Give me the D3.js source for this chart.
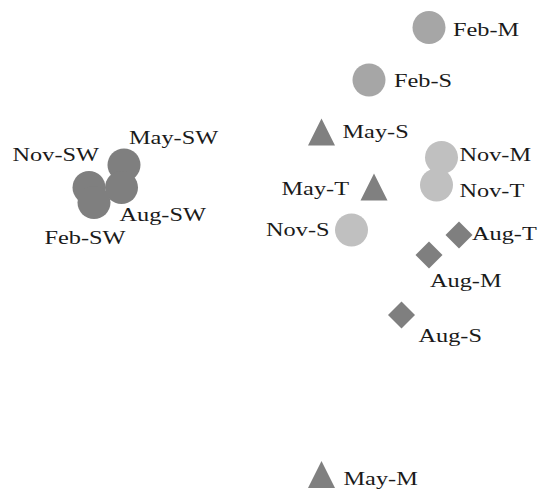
<!DOCTYPE html>
<html lang="en">
<head>
  <meta charset="UTF-8">
  <title>NMDS ordination</title>
  <script src="https://cdn.jsdelivr.net/npm/d3@7/dist/d3.min.js"></script>
  <style>
    body { margin: 0; background: #fff; }
  </style>
</head>
<body>
  <svg class="ordination"></svg>
</body>
</html>
<script>
  var svgWidth = 548;
  var svgHeight = 498;

  // sample labels, ordination scores (axis 1, axis 2) and marker group
  var labels = ['Feb-M', 'Feb-S', 'May-S', 'Nov-M', 'Nov-T', 'May-T', 'Nov-S', 'Aug-T',
                'Aug-M', 'Aug-S', 'May-M', 'May-SW', 'Aug-SW', 'Nov-SW', 'Feb-SW'];
  var axis1 = [0.62, 0.38, 0.19, 0.67, 0.65, 0.40, 0.31, 0.74,
               0.62, 0.51, 0.19, -0.60, -0.61, -0.74, -0.72];
  var axis2 = [0.89, 0.68, 0.47, 0.37, 0.26, 0.25, 0.08, 0.06,
               -0.02, -0.26, -0.90, 0.34, 0.25, 0.25, 0.19];
  var groups = ['feb', 'feb', 'may', 'nov', 'nov', 'may', 'nov', 'aug',
                'aug', 'aug', 'may', 'sw', 'sw', 'sw', 'sw'];

  // label placement relative to the marker: [dx, dy, anchor]
  var labelPos = {
    'Feb-M': [24, 2, 'start'], 'Feb-S': [25, 1, 'start'], 'May-S': [21, -1, 'start'],
    'Nov-M': [18, -3, 'start'], 'Nov-T': [23, 6, 'start'], 'May-T': [-25, 1, 'end'],
    'Nov-S': [-22, 0, 'end'], 'Aug-T': [13, -1, 'start'], 'Aug-M': [1, 26, 'start'],
    'Aug-S': [17, 21, 'start'], 'May-M': [22, 4, 'start'], 'May-SW': [5, -27, 'start'],
    'Aug-SW': [-2, 27, 'start'], 'Nov-SW': [10, -33, 'end'], 'Feb-SW': [-9, 35, 'middle']
  };

  var fills = { sw: '#7f7f7f', feb: '#a6a6a6', nov: '#c0c0c0', may: '#808080', aug: '#7f7f7f' };

  var data = labels.map(function(d, i) {
    return { label: d, x: axis1[i], y: axis2[i], group: groups[i] };
  });

  var xScale = d3.scaleLinear().domain([-1, 1]).range([24, 524]);
  var yScale = d3.scaleLinear().domain([-1, 1]).range([500, 0]);

  var svg = d3.select('.ordination')
    .attr('width', svgWidth)
    .attr('height', svgHeight);

  function shapePath(d) {
    var cx = xScale(d.x), cy = yScale(d.y);
    if (d.group === 'may') {
      return 'M' + (cx - 13.5) + ',' + (cy + 13) + 'L' + (cx + 13.5) + ',' + (cy + 13) +
             'L' + cx + ',' + (cy - 14) + 'Z';
    }
    var h = 13.5;
    return 'M' + cx + ',' + (cy - h) + 'L' + (cx + h) + ',' + cy + 'L' + cx + ',' + (cy + h) +
           'L' + (cx - h) + ',' + cy + 'Z';
  }

  var round = data.filter(function(d) { return ['sw', 'feb', 'nov'].indexOf(d.group) >= 0; });
  var other = data.filter(function(d) { return ['may', 'aug'].indexOf(d.group) >= 0; });

  svg.append('g').selectAll('circle')
    .data(round)
    .enter()
    .append('circle')
    .attr('cx', function(d) { return xScale(d.x); })
    .attr('cy', function(d) { return yScale(d.y); })
    .attr('r', 16.5)
    .attr('fill', function(d) { return fills[d.group]; });

  svg.append('g').selectAll('path')
    .data(other)
    .enter()
    .append('path')
    .attr('d', shapePath)
    .attr('fill', function(d) { return fills[d.group]; });

  svg.append('g').selectAll('text')
    .data(data)
    .enter()
    .append('text')
    .attr('transform', function(d) {
      var p = labelPos[d.label];
      return 'translate(' + (xScale(d.x) + p[0]) + ',' + (yScale(d.y) + p[1]) + ') scale(1.28,1)';
    })
    .attr('text-anchor', function(d) { return labelPos[d.label][2]; })
    .attr('dominant-baseline', 'central')
    .attr('font-family', '"Liberation Serif", "Times New Roman", serif')
    .attr('font-size', 19)
    .attr('fill', '#1a1a1a')
    .text(function(d) { return d.label; });
</script>
